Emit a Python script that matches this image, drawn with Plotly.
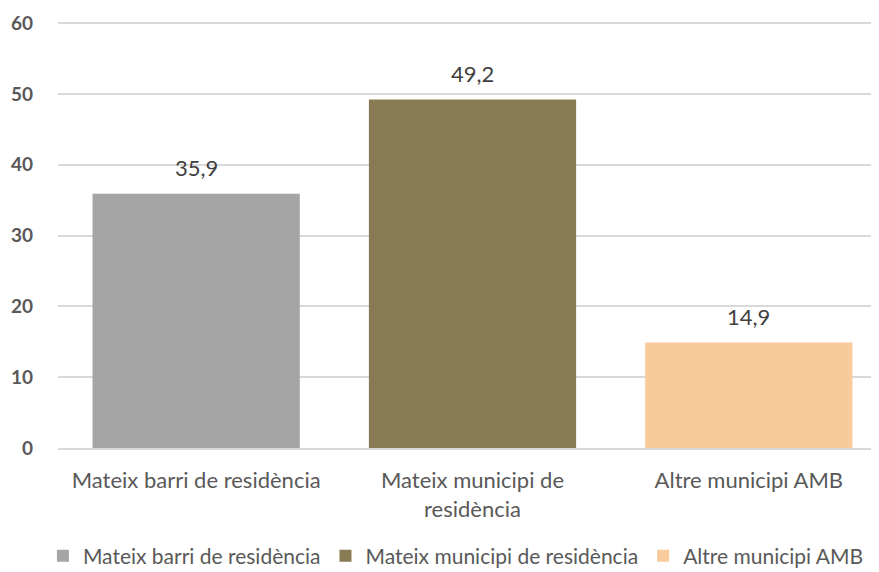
import plotly.graph_objects as go

categories = ["Mateix barri de residència", "Mateix municipi de residència", "Altre municipi AMB"]
tick_labels = ["Mateix barri de residència", "Mateix municipi de<br>residència", "Altre municipi AMB"]
values = [35.9, 49.2, 14.9]
colors = ["#a5a5a5", "#887a52", "#f9ca9b"]

FONT = "Lato"

fig = go.Figure()
for i, (name, val, col) in enumerate(zip(categories, values, colors)):
    fig.add_trace(
        go.Bar(
            x=[tick_labels[i]],
            y=[val],
            name=name,
            marker=dict(color=col, line=dict(width=0)),
        )
    )
    # value label floating above the bar
    fig.add_annotation(
        x=tick_labels[i],
        y=val,
        text=f"{val:.1f}".replace(".", ","),
        showarrow=False,
        yanchor="middle",
        yshift=26,
        font=dict(family=FONT, size=22, color="#404040"),
    )

fig.update_layout(
    width=879,
    height=572,
    margin=dict(l=50, r=0, t=8, b=132, autoexpand=False),
    paper_bgcolor="white",
    plot_bgcolor="white",
    font=dict(family=FONT, color="#595959"),
    bargap=0.25,
    barmode="overlay",
    showlegend=True,
    legend=dict(
        orientation="h",
        x=0.48,
        xanchor="center",
        y=-0.25,
        yanchor="middle",
        font=dict(family=FONT, size=21, color="#595959"),
        traceorder="normal",
        itemwidth=30,
    ),
    xaxis=dict(
        categoryorder="array",
        categoryarray=tick_labels,
        tickfont=dict(family=FONT, size=22, color="#595959"),
        showline=True,
        linecolor="#d9d9d9",
        linewidth=1.5,
        ticks="",
        automargin=False,
        ticklabelstandoff=12,
    ),
    yaxis=dict(
        range=[0, 61],
        dtick=10,
        showgrid=True,
        gridcolor="#d9d9d9",
        gridwidth=1.5,
        zeroline=False,
        tickfont=dict(family=FONT, size=19, color="#595959", weight="bold"),
        ticklabelstandoff=24,
        automargin=False,
    ),
)

fig.write_html("out.html")
